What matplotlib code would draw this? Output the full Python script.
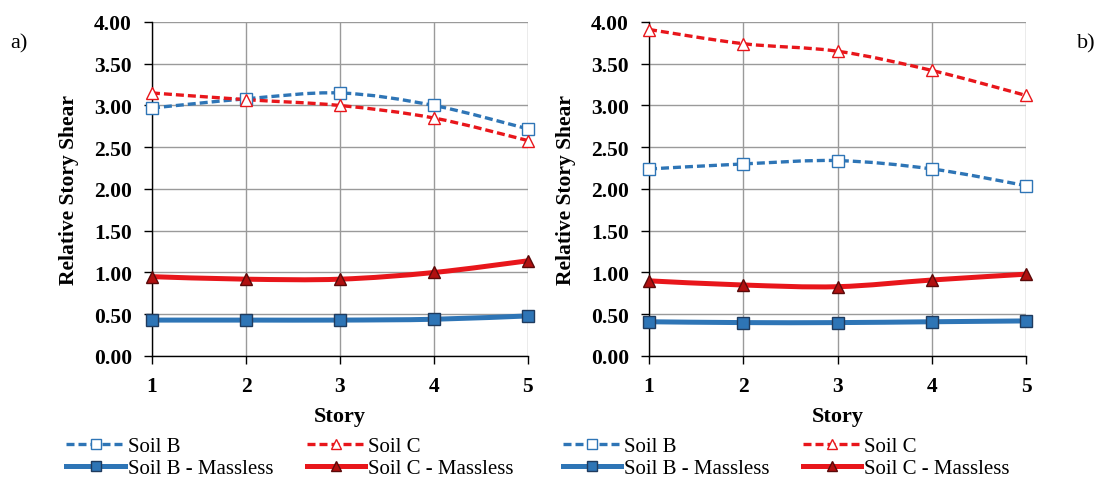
import numpy as np
import matplotlib
matplotlib.use("Agg")
import matplotlib.pyplot as plt
from matplotlib.path import Path
from matplotlib.patches import PathPatch
from matplotlib.lines import Line2D
from matplotlib.ticker import FormatStrFormatter

plt.rcParams['font.family'] = ['Liberation Serif', 'DejaVu Serif']

stories = [1, 2, 3, 4, 5]

# panel a)
a_soil_b = [2.97, 3.08, 3.15, 3.00, 2.72]
a_soil_c = [3.15, 3.07, 3.00, 2.85, 2.58]
a_soil_b_massless = [0.43, 0.43, 0.43, 0.44, 0.48]
a_soil_c_massless = [0.95, 0.92, 0.92, 1.00, 1.14]

# panel b)
b_soil_b = [2.24, 2.30, 2.34, 2.24, 2.04]
b_soil_c = [3.91, 3.74, 3.65, 3.42, 3.12]
b_soil_b_massless = [0.41, 0.40, 0.40, 0.41, 0.42]
b_soil_c_massless = [0.90, 0.85, 0.83, 0.91, 0.98]

labels = ['Soil B', 'Soil B - Massless', 'Soil C', 'Soil C - Massless']

BLUE = '#2E75B6'
RED = '#E8161B'


def smooth_path(x, y):
    # excel-like smoothed line, bezier segments through the data points
    pts = np.column_stack([np.asarray(x, float), np.asarray(y, float)])
    verts = [pts[0]]
    codes = [Path.MOVETO]
    n = len(pts)
    for i in range(n - 1):
        p0 = pts[max(i - 1, 0)]
        p1 = pts[i]
        p2 = pts[i + 1]
        p3 = pts[min(i + 2, n - 1)]
        verts += [p1 + (p2 - p0) / 6.0, p2 - (p3 - p1) / 6.0, p2]
        codes += [Path.CURVE4] * 3
    return Path(verts, codes)


def draw_series(ax, y, color, ls, lw, marker, mfc, mec, ms):
    patch = PathPatch(smooth_path(stories, y), facecolor='none', edgecolor=color,
                      lw=lw, linestyle=ls, zorder=3, capstyle='butt')
    ax.add_patch(patch)
    ax.plot(stories, y, linestyle='none', marker=marker, ms=ms, mfc=mfc,
            mec=mec, mew=1.0, zorder=4, clip_on=False)


styles = [
    dict(color=BLUE, ls=(0, (2.4, 1.2)), lw=2.4, marker='s', mfc='white', mec=BLUE, ms=8),
    dict(color=BLUE, ls='-', lw=3.6, marker='s', mfc=BLUE, mec='#1F3B5E', ms=8),
    dict(color=RED, ls=(0, (2.4, 1.2)), lw=2.4, marker='^', mfc='white', mec=RED, ms=8),
    dict(color=RED, ls='-', lw=3.6, marker='^', mfc='#B01010', mec='#5A0A0A', ms=8),
]

fig = plt.figure(figsize=(10.98, 4.81), dpi=100)
ax_a = fig.add_axes([0.1384, 0.2578, 0.3424, 0.6944])
ax_b = fig.add_axes([0.5911, 0.2578, 0.3434, 0.6944])

panels = [
    (ax_a, [a_soil_b, a_soil_b_massless, a_soil_c, a_soil_c_massless], 0.051),
    (ax_b, [b_soil_b, b_soil_b_massless, b_soil_c, b_soil_c_massless], 0.503),
]

for ax, series, leg_x in panels:
    for y, st in zip(series, styles):
        draw_series(ax, y, **st)
    ax.set_xlim(1, 5)
    ax.set_ylim(0, 4)
    ax.set_xticks(stories)
    ax.set_yticks(np.arange(0, 4.01, 0.5))
    ax.yaxis.set_major_formatter(FormatStrFormatter('%.2f'))
    ax.grid(True, color='#9A9A9A', lw=1.0)
    ax.set_axisbelow(True)
    for s in ['top', 'right']:
        ax.spines[s].set_visible(False)
    for s in ['left', 'bottom']:
        ax.spines[s].set_color('black')
        ax.spines[s].set_linewidth(1.0)
    ax.tick_params(axis='both', direction='out', length=5.5, width=1.0,
                   labelsize=15.5, pad=9)
    for t in ax.get_xticklabels() + ax.get_yticklabels():
        t.set_fontweight('bold')
    ax.set_xlabel('Story', fontsize=16, fontweight='bold')
    ax.xaxis.set_label_coords(0.5, -0.15)
    ax.set_ylabel('Relative Story Shear', fontsize=15.5, fontweight='bold')
    ax.yaxis.set_label_coords(-0.195, 0.5)

    handles = [Line2D([], [], color=st['color'], ls=st['ls'], lw=st['lw'],
                      marker=st['marker'], mfc=st['mfc'], mec=st['mec'], ms=7.5)
               for st in styles]
    fig.legend(handles, labels, ncol=2, loc='upper left',
               bbox_to_anchor=(leg_x, 0.112), frameon=False,
               fontsize=15, handlelength=2.8, handletextpad=0.15,
               columnspacing=1.6, labelspacing=0.12, borderpad=0)

fig.text(0.009, 0.90, 'a)', fontsize=16)
fig.text(0.981, 0.90, 'b)', fontsize=16)

fig.savefig('out.png', dpi=100)
